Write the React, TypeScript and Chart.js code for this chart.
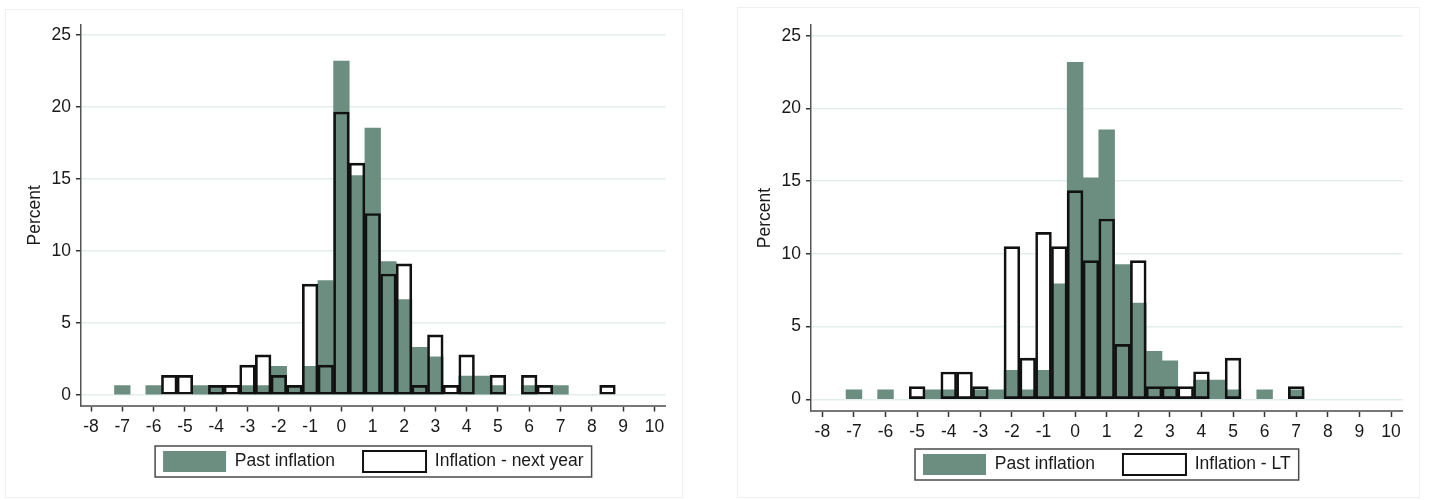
import React, { useEffect, useRef } from "react";
import { Chart, registerables } from "chart.js";

Chart.register(...registerables);

// ---- data (bin centres, bin width 0.5) ----
const pastX = [-7, -6, -4.5, -4, -3, -2.5, -2, -1.5, -1, -0.5, 0, 0.5, 1, 1.5, 2, 2.5, 3, 4, 4.5, 5, 6, 7];
const pastY = [0.66, 0.66, 0.66, 0.66, 0.66, 0.66, 1.99, 0.66, 1.99, 7.95, 23.18, 15.23, 18.54, 9.27, 6.62, 3.31, 2.65, 1.32, 1.32, 0.66, 0.66, 0.66];

const nextYearX = [-5.5, -5, -4, -3.5, -3, -2.5, -2, -1.5, -1, -0.5, 0, 0.5, 1, 1.5, 2, 2.5, 3, 3.5, 4, 5, 6, 6.5, 8.5];
const nextYearY = [1.36, 1.36, 0.67, 0.67, 2.07, 2.78, 1.36, 0.67, 7.7, 2.07, 19.65, 16.1, 12.6, 8.4, 9.1, 0.67, 4.17, 0.67, 2.78, 1.36, 1.36, 0.67, 0.67];

const ltX = [-5, -4, -3.5, -3, -2, -1.5, -1, -0.5, 0, 0.5, 1, 1.5, 2, 2.5, 3, 3.5, 4, 5, 7];
const ltY = [0.88, 1.88, 1.88, 0.88, 10.5, 2.83, 11.48, 10.5, 14.35, 9.54, 12.4, 3.78, 9.54, 0.88, 0.88, 0.88, 1.9, 2.83, 0.88];

const xTicks = [-8, -7, -6, -5, -4, -3, -2, -1, 0, 1, 2, 3, 4, 5, 6, 7, 8, 9, 10];
const yTicks = [0, 5, 10, 15, 20, 25];

const pastLabel = "Past inflation";
const nextYearLabel = "Inflation - next year";
const ltLabel = "Inflation - LT";
const yTitle = "Percent";

// ---- styles ----
const GREEN = "#6b8e80";
const FONT = "'Liberation Sans', Arial, sans-serif";
const TEXT = "#1a1a1a";

const legendBoxPlugin = {
  id: "legendBox",
  afterDraw(chart: any) {
    const lg = chart.legend;
    if (!lg || !lg.legendHitBoxes || !lg.legendHitBoxes.length) return;
    const hb = lg.legendHitBoxes;
    const left = Math.min(...hb.map((h: any) => h.left)) - 8;
    const right = Math.max(...hb.map((h: any) => h.left + h.width)) + 8;
    const top = Math.min(...hb.map((h: any) => h.top)) - 5;
    const bottom = Math.max(...hb.map((h: any) => h.top + h.height)) + 5;
    const ctx = chart.ctx;
    ctx.save();
    ctx.strokeStyle = "#4a4a4a";
    ctx.lineWidth = 1.5;
    ctx.strokeRect(left, top, right - left, bottom - top);
    ctx.restore();
  },
};

type Geo = {
  x: number;
  w: number;
  yW: number;
  xH: number;
  titlePad: number;
  padRight: number;
  padBottom: number;
  legendShift: number;
  xMin: number;
  xMax: number;
  yMin: number;
  yMax: number;
};

function Hist(props: { otherX: number[]; otherY: number[]; otherLabel: string; geo: Geo }) {
  const ref = useRef<HTMLCanvasElement>(null);
  const { otherX, otherY, otherLabel, geo } = props;
  useEffect(() => {
    const pts = (xs: number[], ys: number[]) => xs.map((x, i) => ({ x, y: ys[i] }));
    const legendShiftPlugin = {
      id: "legendShift",
      afterLayout(chart: any) {
        const lg = chart.legend;
        if (!lg) return;
        lg.top -= geo.legendShift;
        lg.bottom -= geo.legendShift;
      },
    };
    const chart = new Chart(ref.current as HTMLCanvasElement, {
      type: "bar",
      data: {
        datasets: [
          {
            label: otherLabel + " outline",
            data: pts(otherX, otherY),
            backgroundColor: "rgba(0,0,0,0)",
            borderColor: "#111",
            borderWidth: 2,
            borderSkipped: false,
            grouped: false,
            barPercentage: 1,
            categoryPercentage: 1,
          } as any,
          {
            label: pastLabel,
            data: pts(pastX, pastY),
            backgroundColor: GREEN,
            borderWidth: 0,
            grouped: false,
            barPercentage: 1,
            categoryPercentage: 1,
          } as any,
          {
            label: otherLabel,
            data: pts(otherX, otherY),
            backgroundColor: "#ffffff",
            borderWidth: 0,
            grouped: false,
            barPercentage: 1,
            categoryPercentage: 1,
          } as any,
        ],
      },
      options: {
        animation: false,
        responsive: false,
        devicePixelRatio: 1,
        layout: { padding: { left: 0, right: geo.padRight, top: 25, bottom: geo.padBottom } },
        plugins: {
          tooltip: { enabled: false },
          legend: {
            display: true,
            position: "bottom",
            fullSize: false,
            maxHeight: 55,
            labels: {
              boxWidth: 63,
              boxHeight: 21,
              padding: 28,
              color: TEXT,
              font: { family: FONT, size: 17.5 },
              generateLabels: () => [
                { text: pastLabel, fillStyle: GREEN, strokeStyle: GREEN, lineWidth: 0, hidden: false, datasetIndex: 1, fontColor: TEXT } as any,
                { text: otherLabel, fillStyle: "#ffffff", strokeStyle: "#111", lineWidth: 2, hidden: false, datasetIndex: 0, fontColor: TEXT } as any,
              ],
            },
          },
        },
        scales: {
          x: {
            type: "linear",
            offset: false,
            min: geo.xMin,
            max: geo.xMax,
            afterBuildTicks: (s: any) => {
              s.ticks = xTicks.map((v) => ({ value: v }));
            },
            afterFit: (s: any) => {
              s.height = geo.xH;
            },
            ticks: {
              autoSkip: false,
              maxRotation: 0,
              padding: 5,
              color: TEXT,
              font: { family: FONT, size: 17.5 },
              callback: (v: any) => String(v),
            },
            grid: {
              offset: false,
              drawOnChartArea: false,
              drawTicks: true,
              tickLength: 6,
              tickColor: "#333",
              tickWidth: 1.5,
            },
            border: { display: true, color: "#777", width: 2 },
          } as any,
          y: {
            type: "linear",
            min: geo.yMin,
            max: geo.yMax,
            afterBuildTicks: (s: any) => {
              s.ticks = yTicks.map((v) => ({ value: v }));
            },
            afterFit: (s: any) => {
              s.width = geo.yW;
            },
            ticks: {
              padding: 5,
              color: TEXT,
              font: { family: FONT, size: 17.5 },
              callback: (v: any) => String(v),
            },
            grid: {
              color: "#e3eded",
              lineWidth: 1.5,
              drawTicks: true,
              tickLength: 5,
              tickColor: "#333",
              tickWidth: 1.5,
            },
            border: { display: true, color: "#555", width: 1.5 },
            title: {
              display: true,
              text: yTitle,
              color: TEXT,
              font: { family: FONT, size: 17.5 },
              padding: { top: geo.titlePad, bottom: 0 },
            },
          } as any,
        },
      },
      plugins: [legendShiftPlugin, legendBoxPlugin],
    });
    return () => chart.destroy();
  }, []);
  return (
    <canvas
      ref={ref}
      width={geo.w}
      height={500}
      style={{ position: "absolute", left: geo.x, top: 0, width: geo.w, height: 500 }}
    />
  );
}

const leftGeo: Geo = {
  x: 0, w: 714, yW: 81, xH: 36, titlePad: 24.5, padRight: 48.3, padBottom: 3.5, legendShift: 18.5,
  xMin: -8.32, xMax: 10.36, yMin: -0.73, yMax: 25.69,
};
const rightGeo: Geo = {
  x: 714, w: 715, yW: 97, xH: 34, titlePad: 40.5, padRight: 26.3, padBottom: 0, legendShift: 19,
  xMin: -8.36, xMax: 10.37, yMin: -0.8, yMax: 25.74,
};

export default function App() {
  return (
    <div style={{ position: "absolute", left: 0, top: 0, width: 1429, height: 500, background: "#fff", overflow: "hidden" }}>
      <div style={{ position: "absolute", left: 5, top: 9, width: 678, height: 489, border: "1px solid #f0f0f0", boxSizing: "border-box" }} />
      <div style={{ position: "absolute", left: 737, top: 7, width: 683, height: 491, border: "1px solid #f0f0f0", boxSizing: "border-box" }} />
      <Hist otherX={nextYearX} otherY={nextYearY} otherLabel={nextYearLabel} geo={leftGeo} />
      <Hist otherX={ltX} otherY={ltY} otherLabel={ltLabel} geo={rightGeo} />
    </div>
  );
}
